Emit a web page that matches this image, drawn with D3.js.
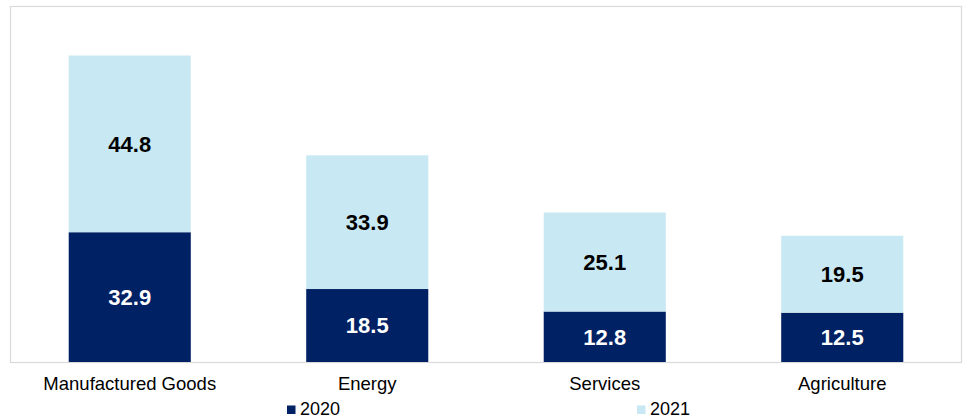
<!DOCTYPE html>
<html>
<head>
<meta charset="utf-8">
<script src="https://cdn.jsdelivr.net/npm/d3@7"></script>
<style>
  html, body { margin: 0; padding: 0; background: #fff; }
  svg { display: block; font-family: "Liberation Sans", Arial, sans-serif; }
</style>
</head>
<body>
<svg id="chart" width="963" height="417"></svg>
<script>
// Sector values by year
const categories = ["Manufactured Goods", "Energy", "Services", "Agriculture"];
const values2020 = [32.9, 18.5, 12.8, 12.5];
const values2021 = [44.8, 33.9, 25.1, 19.5];
const seriesNames = ["2020", "2021"];
const seriesColors = ["#002164", "#C8E9F3"];

const svg = d3.select("#chart");
const frame = { left: 11, top: 7, right: 961, bottom: 362 };

const x = d3.scaleBand()
  .domain(categories)
  .range([frame.left, frame.right])
  .paddingInner(0.486)
  .paddingOuter(0.243);

const y = d3.scaleLinear()
  .domain([0, 90])
  .range([frame.bottom, frame.top]);

// Plot frame
svg.append("rect")
  .attr("x", frame.left - 0.5)
  .attr("y", frame.top - 0.5)
  .attr("width", frame.right - frame.left + 1)
  .attr("height", frame.bottom - frame.top + 1)
  .attr("fill", "none")
  .attr("stroke", "#D9D9D9")
  .attr("stroke-width", 1.2);

// Stack the two series
const rows = categories.map((c, i) => ({ cat: c, "2020": values2020[i], "2021": values2021[i] }));
const stacked = d3.stack().keys(seriesNames)(rows);

const layers = svg.selectAll("g.layer")
  .data(stacked)
  .join("g")
  .attr("class", "layer")
  .attr("fill", (d, i) => seriesColors[i]);

layers.selectAll("rect")
  .data(d => d)
  .join("rect")
  .attr("x", d => x(d.data.cat))
  .attr("width", x.bandwidth())
  .attr("y", d => y(d[1]))
  .attr("height", d => y(d[0]) - y(d[1]));

// Value labels centred in each segment
stacked.forEach((layer, li) => {
  svg.append("g")
    .selectAll("text")
    .data(layer)
    .join("text")
    .attr("x", d => x(d.data.cat) + x.bandwidth() / 2)
    .attr("y", d => (y(d[0]) + y(d[1])) / 2)
    .attr("dy", "0.36em")
    .attr("text-anchor", "middle")
    .attr("font-size", 22)
    .attr("font-weight", "bold")
    .attr("fill", li === 0 ? "#FFFFFF" : "#000000")
    .text(d => d.data[seriesNames[li]].toFixed(1));
});

// Category axis
const xAxis = svg.append("g")
  .attr("transform", `translate(0,${frame.bottom})`)
  .call(d3.axisBottom(x).tickSize(0).tickPadding(15));
xAxis.select(".domain").attr("stroke", "#D9D9D9").attr("stroke-width", 1.2);
xAxis.selectAll("text")
  .attr("font-size", 18.5)
  .attr("font-family", "Liberation Sans, Arial, sans-serif")
  .attr("fill", "#000");

// Legend
const legendItems = [
  { name: seriesNames[0], color: seriesColors[0], x: 287 },
  { name: seriesNames[1], color: seriesColors[1], x: 637 }
];
const legend = svg.append("g");
legendItems.forEach(item => {
  legend.append("rect")
    .attr("x", item.x)
    .attr("y", 405.5)
    .attr("width", 8.5)
    .attr("height", 8.5)
    .attr("fill", item.color);
  legend.append("text")
    .attr("x", item.x + 13)
    .attr("y", 414.5)
    .attr("font-size", 18)
    .attr("fill", "#000")
    .text(item.name);
});
</script>
</body>
</html>
